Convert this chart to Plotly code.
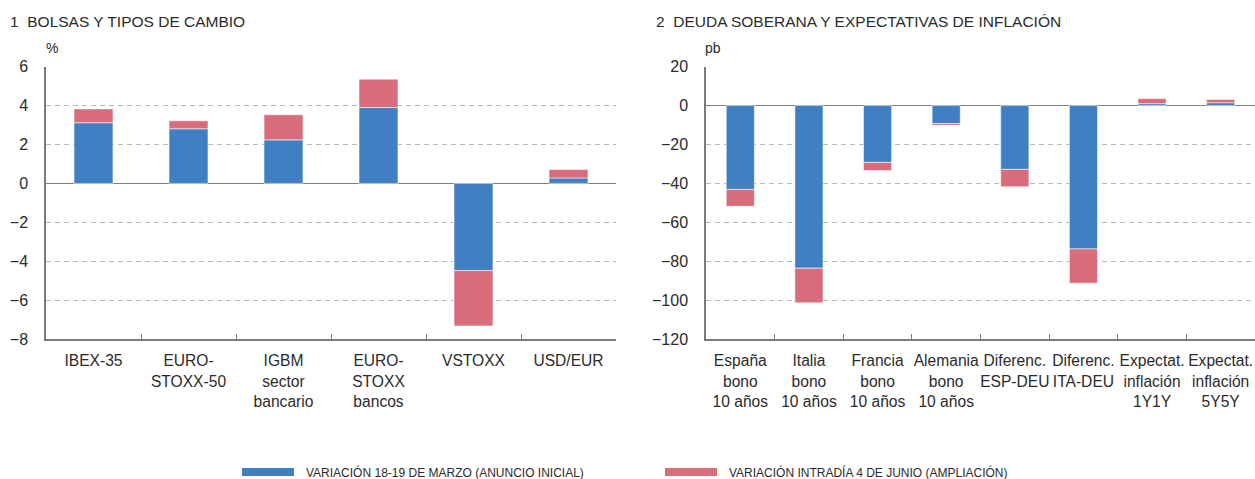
import plotly.graph_objects as go
from plotly.subplots import make_subplots

# ---------------- data ----------------
cats_bolsas = ["IBEX-35", "EURO-<br>STOXX-50", "IGBM<br>sector<br>bancario",
               "EURO-<br>STOXX<br>bancos", "VSTOXX", "USD/EUR"]
marzo_bolsas = [3.12, 2.81, 2.24, 3.90, -4.48, 0.28]
junio_bolsas = [0.71, 0.41, 1.29, 1.46, -2.85, 0.43]

cats_deuda = ["España<br>bono<br>10 años", "Italia<br>bono<br>10 años",
              "Francia<br>bono<br>10 años", "Alemania<br>bono<br>10 años",
              "Diferenc.<br>ESP-DEU", "Diferenc.<br>ITA-DEU",
              "Expectat.<br>inflación<br>1Y1Y", "Expectat.<br>inflación<br>5Y5Y"]
marzo_deuda = [-43.1, -83.6, -29.2, -9.2, -32.8, -73.7, 1.0, 1.5]
junio_deuda = [-8.7, -17.8, -4.2, -0.9, -8.9, -17.6, 2.6, 1.7]

serie_names = ["VARIACIÓN 18-19 DE MARZO (ANUNCIO INICIAL)",
               "VARIACIÓN INTRADÍA 4 DE JUNIO (AMPLIACIÓN)"]
titles = ["1  BOLSAS Y TIPOS DE CAMBIO", "2  DEUDA SOBERANA Y EXPECTATIVAS DE INFLACIÓN"]
units = ["%", "pb"]
ticks_bolsas = [6, 4, 2, 0, -2, -4, -6, -8]
ticks_deuda = [20, 0, -20, -40, -60, -80, -100, -120]

# ---------------- style ----------------
BLUE = "#3F7FC2"
RED = "#D96C7A"
FONT = "Liberation Sans, Arial, sans-serif"
TXT = "#2b2b2b"
W, H = 1255, 479

fig = make_subplots(rows=1, cols=2)

edge = dict(color="rgba(255,255,255,0.55)", width=1)
for cats, m, j, col in [(cats_bolsas, marzo_bolsas, junio_bolsas, 1),
                        (cats_deuda, marzo_deuda, junio_deuda, 2)]:
    fig.add_trace(go.Bar(x=cats, y=m, name=serie_names[0], marker_color=BLUE,
                         marker_line=edge, showlegend=False), row=1, col=col)
    fig.add_trace(go.Bar(x=cats, y=j, name=serie_names[1], marker_color=RED,
                         marker_line=edge, showlegend=False), row=1, col=col)

ydom = [1 - 339 / H, 1 - 66.7 / H]
xdoms = [[46 / W, 616 / W], [706 / W, 1.0]]

common_x = dict(showline=True, linecolor="#7a7a7a", linewidth=1.5,
                ticks="inside", tickson="boundaries", ticklen=5, tickcolor="#7a7a7a",
                showgrid=False, tickangle=0, automargin=False,
                tickfont=dict(family=FONT, size=15.6, color=TXT),
                ticklabelstandoff=7, fixedrange=True)
common_y = dict(showline=True, linecolor="#7a7a7a", linewidth=1.5, ticks="",
                showgrid=True, gridcolor="#b8b8b8", gridwidth=1, griddash="5px,4px",
                zeroline=True, zerolinecolor="#7f7f7f", zerolinewidth=1,
                automargin=False, fixedrange=True,
                tickfont=dict(family=FONT, size=16, color=TXT),
                ticklabelstandoff=13, domain=ydom)

fig.update_xaxes(domain=xdoms[0], row=1, col=1, **common_x)
fig.update_xaxes(domain=xdoms[1], row=1, col=2, **common_x)
fig.update_yaxes(range=[min(ticks_bolsas), max(ticks_bolsas)], tickvals=ticks_bolsas,
                 row=1, col=1, **common_y)
fig.update_yaxes(range=[min(ticks_deuda), max(ticks_deuda)], tickvals=ticks_deuda,
                 row=1, col=2, **common_y)

annotations = [
    dict(text=titles[0], x=8 / W, y=1 - 21.5 / H, xref="paper", yref="paper",
         xanchor="left", yanchor="middle", showarrow=False,
         font=dict(family=FONT, size=15.5, color=TXT)),
    dict(text=titles[1], x=654 / W, y=1 - 21.5 / H, xref="paper", yref="paper",
         xanchor="left", yanchor="middle", showarrow=False,
         font=dict(family=FONT, size=15.5, color=TXT)),
    dict(text=units[0], x=44 / W, y=1 - 48 / H, xref="paper", yref="paper",
         xanchor="left", yanchor="middle", showarrow=False,
         font=dict(family=FONT, size=14, color=TXT)),
    dict(text=units[1], x=703 / W, y=1 - 48 / H, xref="paper", yref="paper",
         xanchor="left", yanchor="middle", showarrow=False,
         font=dict(family=FONT, size=14, color=TXT)),
]

# manual legend (wide flat swatches as in the reference)
shapes = []
for (sx0, tx), color, name in [((242, 304), BLUE, serie_names[0]),
                               ((665, 727), RED, serie_names[1])]:
    shapes.append(dict(type="rect", xref="paper", yref="paper",
                       x0=sx0 / W, x1=(sx0 + 52) / W, y0=1 - 476 / H, y1=1 - 468 / H,
                       fillcolor=color, line=dict(width=0)))
    annotations.append(dict(text=name, x=tx / W, y=1 - 472.5 / H, xref="paper",
                            yref="paper", xanchor="left", yanchor="middle",
                            showarrow=False,
                            font=dict(family=FONT, size=12, color=TXT)))

fig.update_layout(
    width=W, height=H, barmode="relative", bargap=0.59,
    margin=dict(l=0, r=0, t=0, b=0, autoexpand=False),
    paper_bgcolor="white", plot_bgcolor="white",
    annotations=annotations, shapes=shapes,
    font=dict(family=FONT, color=TXT),
)

fig.write_html("out.html",
               config={"displayModeBar": False},
               post_script="document.body.style.margin='0';"
                           "document.body.style.overflow='hidden';")
